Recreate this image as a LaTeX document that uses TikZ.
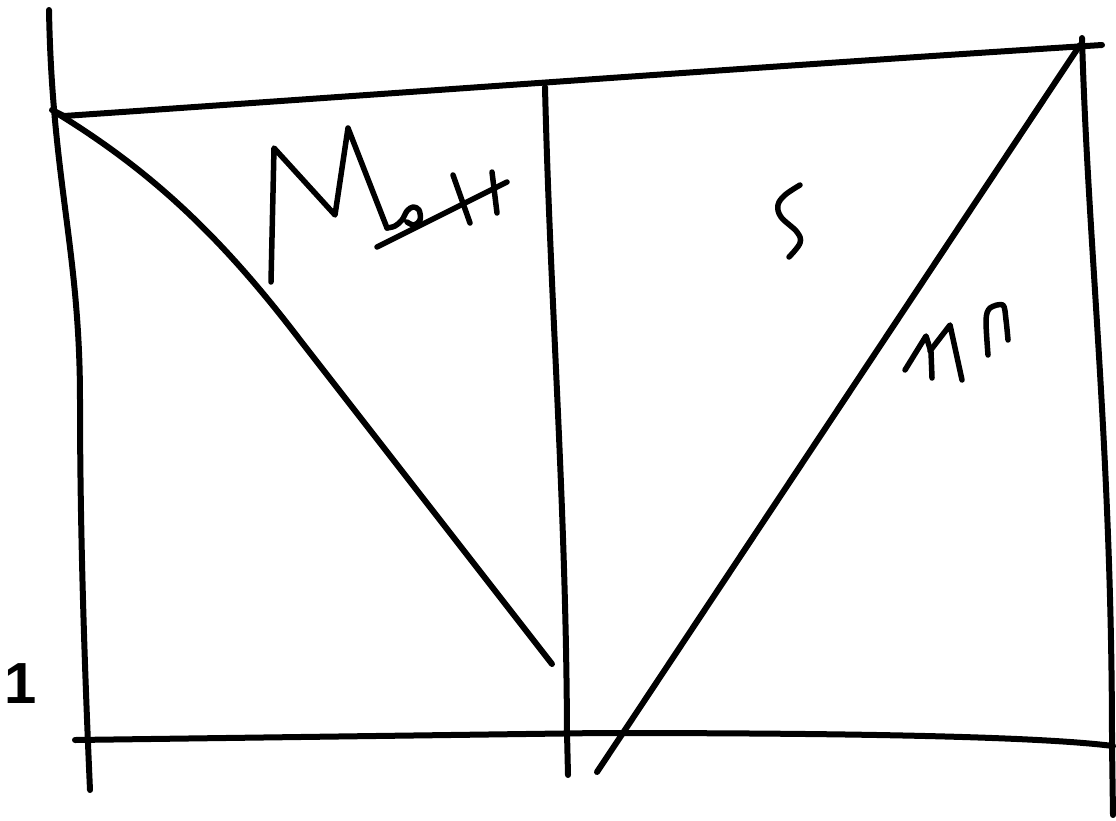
\documentclass[tikz,border=0pt]{standalone}
\usepackage{fontspec}
\newfontfamily\labelfont{Liberation Sans}
\begin{document}
\begin{tikzpicture}[x=1pt,y=-1pt,
  pen/.style={line width=6pt,line cap=round,line join=round,black},
  scrib/.style={line width=5.5pt,line cap=round,line join=round,black}]
\fill[white] (0,0) rectangle (1116,820);
\useasboundingbox (0,0) rectangle (1116,820);
% left vertical
\draw[pen] (49,10) .. controls (52,180) and (80,250) .. (80,400) .. controls (80,550) and (86,700) .. (90,790);
% top horizontal
\draw[pen] (52,110) -- (64,116) .. controls (400,93) and (800,64) .. (1102,45);
% middle vertical
\draw[pen] (545,87) .. controls (550,300) and (566,500) .. (567,733) -- (568,775);
% right vertical
\draw[pen] (1082,38) .. controls (1088,250) and (1112,450) .. (1112,745) -- (1113,815);
% bottom horizontal
\draw[pen] (75,740) -- (600,733) .. controls (900,733) and (1050,738) .. (1113,746);
% left diagonal
\draw[pen] (55,112) .. controls (150,170) and (220,235) .. (300,340) -- (552,664);
% right diagonal
\draw[pen] (1080,45) -- (597,772);
% handwriting "M" with struck-through letters
\draw[scrib] (271,282) -- (274,148) -- (335,215) -- (348,128) -- (387,228);
\draw[scrib] plot[smooth,tension=0.6] coordinates {(387,228) (395,226) (402,220) (407,211) (413,207) (419,210) (420,220) (414,225) (407,222)};
\draw[scrib] (377,247) -- (507,182);
\draw[scrib] (453,175) -- (470,223);
\draw[scrib] (492,172) -- (497,213);
% handwriting "S"
\draw[scrib] plot[smooth,tension=0.6] coordinates {(800,185) (785,195) (778,205) (781,217) (797,232) (800,243) (789,257)};
% handwriting marks near right diagonal
\draw[scrib] (905,370) -- (926,336) -- (931,352) -- (932,378);
\draw[scrib] (930,351) -- (950,325) -- (962,380);
\draw[scrib] plot[smooth,tension=0.5] coordinates {(988,355) (986,320) (990,308) (1003,305) (1006,320) (1008,340)};
% printed label
\node[font=\labelfont\bfseries\fontsize{58}{60}\selectfont,inner sep=0pt] (one) at (21,684) {1};
\end{tikzpicture}
\end{document}
